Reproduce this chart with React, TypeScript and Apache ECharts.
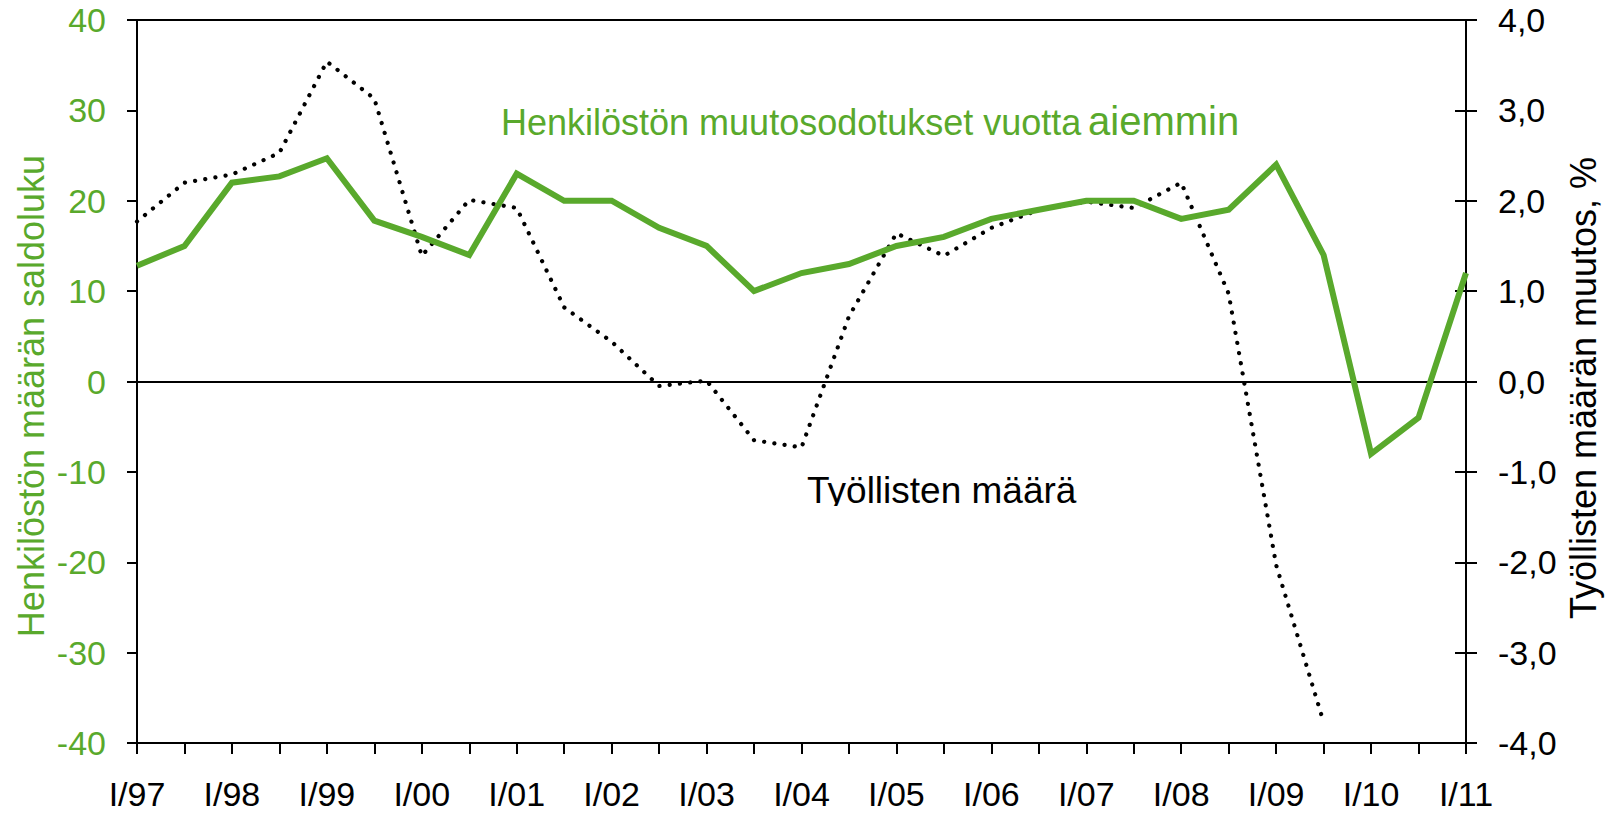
import React, { useEffect, useRef } from "react";
import * as echarts from "echarts";

const categories = [
  "I/97", "II/97", "I/98", "II/98", "I/99", "II/99", "I/00", "II/00",
  "I/01", "II/01", "I/02", "II/02", "I/03", "II/03", "I/04", "II/04",
  "I/05", "II/05", "I/06", "II/06", "I/07", "II/07", "I/08", "II/08",
  "I/09", "II/09", "I/10", "II/10", "I/11",
];

// Henkilöstön muutosodotukset vuotta aiemmin (saldoluku, left axis)
const expectations = [
  12.8, 15, 22, 22.7, 24.7, 17.8, 16, 14, 23, 20, 20, 17, 15, 10, 12, 13,
  15, 16, 18, 19, 20, 20, 18, 19, 24, 14, -8, -4, 12,
];

// Työllisten määrä, muutos % (right axis)
const employed = [
  1.77, 2.2, 2.29, 2.53, 3.54, 3.13, 1.39, 2.01, 1.92, 0.82, 0.44, -0.05,
  0.01, -0.65, -0.73, 0.72, 1.64, 1.39, 1.7, 1.9, 1.99, 1.92, 2.2, 0.97,
  -2.03, -3.77,
];

const leftTicks = { min: -40, max: 40, interval: 10 };
const rightTicks = { min: -4, max: 4, interval: 1 };

const GREEN = "#59A92C";
const FONT = "'Liberation Sans', Arial, sans-serif";

export default function App() {
  const ref = useRef<HTMLDivElement>(null);

  useEffect(() => {
    if (!ref.current) return;
    const chart = echarts.init(ref.current, null, { renderer: "svg" });
    chart.setOption({
      animation: false,
      backgroundColor: "#ffffff",
      grid: {
        left: 137,
        right: 146,
        top: 20,
        bottom: 71,
        show: true,
        borderColor: "#000",
        borderWidth: 2,
        backgroundColor: "transparent",
      },
      xAxis: {
        type: "category",
        data: categories,
        boundaryGap: false,
        axisLine: { show: true, onZero: false, lineStyle: { color: "#000", width: 2 } },
        axisTick: { show: true, interval: 0, length: 11, lineStyle: { color: "#000", width: 2 } },
        axisLabel: {
          interval: 1,
          margin: 34,
          color: "#000",
          fontSize: 34,
          fontFamily: FONT,
        },
        splitLine: { show: false },
      },
      yAxis: [
        {
          type: "value",
          position: "left",
          min: leftTicks.min,
          max: leftTicks.max,
          interval: leftTicks.interval,
          axisLine: { show: true, lineStyle: { color: "#000", width: 2 } },
          axisTick: { show: true, length: 10, lineStyle: { color: "#000", width: 2 } },
          axisLabel: { margin: 31, color: GREEN, fontSize: 34, fontFamily: FONT },
          splitLine: { show: false },
        },
        {
          type: "value",
          position: "right",
          min: rightTicks.min,
          max: rightTicks.max,
          interval: rightTicks.interval,
          axisLine: { show: true, lineStyle: { color: "#000", width: 2 } },
          axisTick: { show: true, length: 11, lineStyle: { color: "#000", width: 2 } },
          axisLabel: {
            margin: 32,
            color: "#000",
            fontSize: 34,
            fontFamily: FONT,
            formatter: (v: number) => v.toFixed(1).replace(".", ","),
          },
          splitLine: { show: false },
        },
        {
          type: "value",
          position: "right",
          min: rightTicks.min,
          max: rightTicks.max,
          interval: rightTicks.interval,
          axisLine: { show: false },
          axisTick: { show: true, inside: true, length: 11, lineStyle: { color: "#000", width: 2 } },
          axisLabel: { show: false },
          splitLine: { show: false },
        },
      ],
      series: [
        {
          name: "Työllisten määrä",
          type: "line",
          yAxisIndex: 1,
          data: employed,
          showSymbol: false,
          symbol: "none",
          lineStyle: { color: "#000", width: 4.2, type: [0.1, 10.2], cap: "round", join: "round" },
          z: 3,
        },
        {
          name: "Henkilöstön muutosodotukset",
          type: "line",
          yAxisIndex: 0,
          data: expectations,
          showSymbol: false,
          symbol: "none",
          lineStyle: { color: GREEN, width: 6, join: "miter" },
          z: 4,
          markLine: {
            silent: true,
            symbol: "none",
            label: { show: false },
            lineStyle: { color: "#000", width: 2, type: "solid" },
            data: [{ yAxis: 0 }],
            z: 2,
          },
        },
      ],
      graphic: [
        {
          type: "text",
          x: 31,
          y: 396,
          rotation: Math.PI / 2,
          style: {
            text: "Henkilöstön määrän saldoluku",
            fill: GREEN,
            font: `36px ${FONT}`,
            align: "center",
            verticalAlign: "middle",
          },
        },
        {
          type: "text",
          x: 1583,
          y: 388,
          rotation: Math.PI / 2,
          style: {
            text: "Työllisten määrän muutos, %",
            fill: "#000",
            font: `36px ${FONT}`,
            align: "center",
            verticalAlign: "middle",
          },
        },
        {
          type: "text",
          x: 501,
          y: 122.5,
          style: {
            text: "Henkilöstön muutosodotukset vuotta",
            fill: GREEN,
            font: `36px ${FONT}`,
            align: "left",
            verticalAlign: "middle",
          },
        },
        {
          type: "text",
          x: 1088,
          y: 121,
          style: {
            text: "aiemmin",
            fill: GREEN,
            font: `40px ${FONT}`,
            align: "left",
            verticalAlign: "middle",
          },
        },
        {
          type: "text",
          x: 807,
          y: 490.5,
          z: 10,
          style: {
            text: "Työllisten määrä",
            fill: "#000",
            font: `37px ${FONT}`,
            align: "left",
            verticalAlign: "middle",
          },
        },
        {
          type: "rect",
          z: 11,
          shape: { x: 800, y: 506, width: 290, height: 14 },
          style: { fill: "#ffffff" },
        },
      ],
    });
    return () => chart.dispose();
  }, []);

  return (
    <div
      ref={ref}
      style={{ position: "fixed", left: 0, top: 0, width: 1612, height: 814, background: "#fff" }}
    />
  );
}
